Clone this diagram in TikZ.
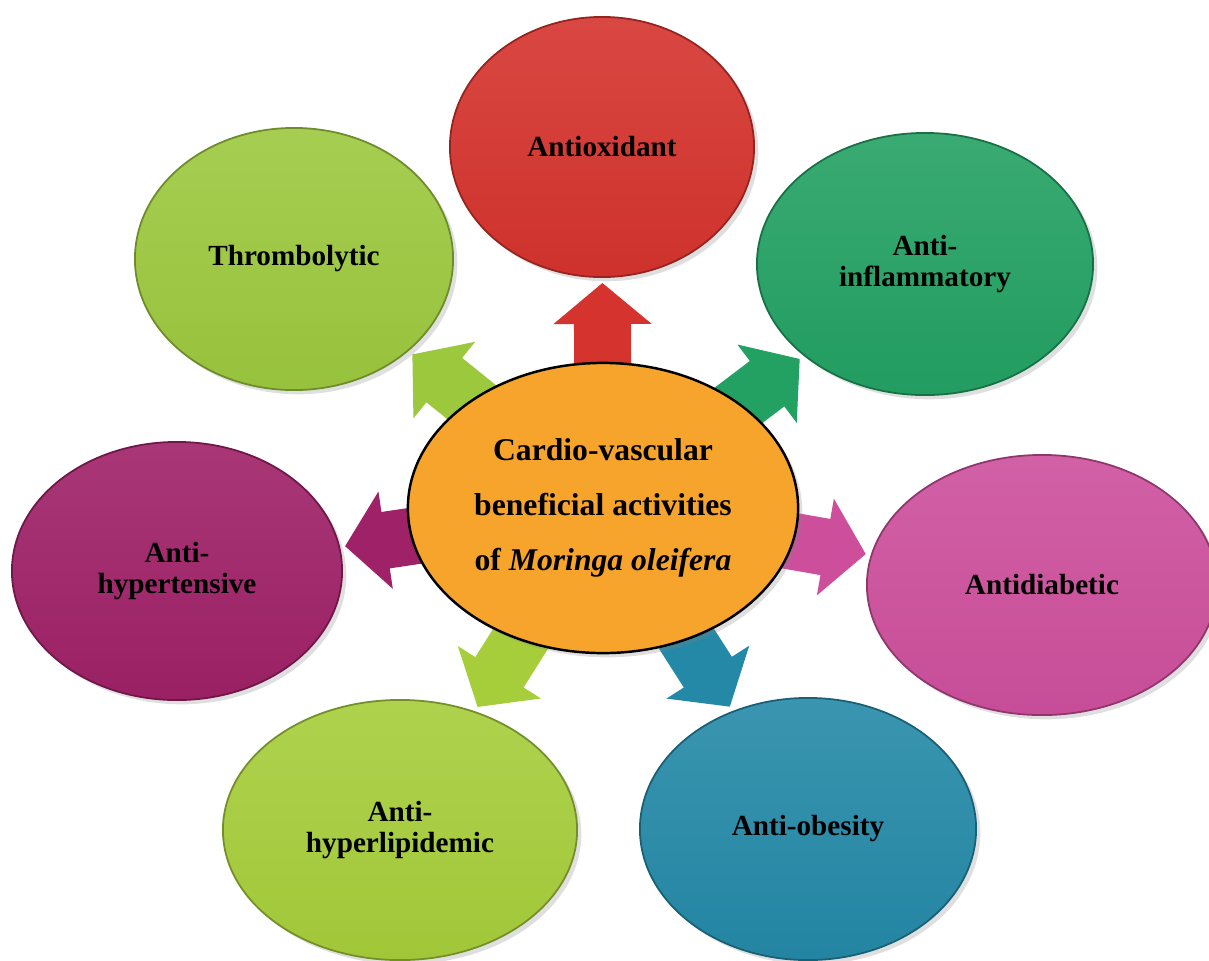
\documentclass[tikz,border=0pt]{standalone}
\usepackage{fontspec}
\setmainfont{Liberation Serif}
\usetikzlibrary{shapes.geometric,arrows.meta,shadows,backgrounds}
\definecolor{coreorange}{HTML}{F6A42C}
\definecolor{oxred}{HTML}{D5332D}
\definecolor{thrgreen}{HTML}{9CC83E}
\definecolor{inflgreen}{HTML}{23A163}
\definecolor{hyppurple}{HTML}{9F2167}
\definecolor{diabpink}{HTML}{CD4F9C}
\definecolor{lipgreen}{HTML}{A6CD3A}
\definecolor{obsteal}{HTML}{2489A7}
\tikzset{
  actnode/.style={ellipse,draw=#1!70!black,line width=0.5pt,
    top color=#1!90!white,bottom color=#1!97!black,inner sep=0pt,align=center,
    font=\bfseries\fontsize{8.3}{8.6}\selectfont,
    drop shadow={opacity=0.25,shadow xshift=1.2pt,shadow yshift=-1.2pt}},
  corenode/.style={ellipse,draw=black,line width=0.7pt,fill=coreorange,
    minimum width=39mm,minimum height=29mm,inner sep=0pt,align=center,
    font=\bfseries\fontsize{9}{15.6}\selectfont,
    drop shadow={opacity=0.25,shadow xshift=1.2pt,shadow yshift=-1.2pt}},
  actarrow/.style={draw=#1,line width=5.7mm,shorten <=-2.5mm,shorten >=0.5mm,
    -{Triangle[width=9.6mm,length=4.1mm]}}
}
\begin{document}
\begin{tikzpicture}[x=0.01cm,y=-0.01cm]
  \useasboundingbox (0,0) rectangle (1209,960);

  \node[corenode] (core) at (603,508)
    {Cardio-vascular\\beneficial activities\\of \textit{Moringa oleifera}};

  \node[actnode=oxred,minimum width=30.4mm,minimum height=26mm] (antiox) at (602,147) {Antioxidant};
  \node[actnode=thrgreen,minimum width=31.8mm,minimum height=26.2mm] (thromb) at (294,259) {Thrombolytic};
  \node[actnode=inflgreen,minimum width=33.6mm,minimum height=26.2mm] (inflam) at (925,264) {Anti-\\inflammatory};
  \node[actnode=hyppurple,minimum width=33mm,minimum height=25.8mm] (hypert) at (177,571) {Anti-\\hypertensive};
  \node[actnode=diabpink,minimum width=35mm,minimum height=26mm] (diab) at (1042,585) {Antidiabetic};
  \node[actnode=lipgreen,minimum width=35.4mm,minimum height=26mm] (hyperl) at (400,830) {Anti-\\hyperlipidemic};
  \node[actnode=obsteal,minimum width=33.6mm,minimum height=26.2mm] (obes) at (808,829) {Anti-obesity};

  % block arrows from the centre
  \begin{scope}[on background layer]
    \foreach \tgt/\col in {antiox/oxred,thromb/thrgreen,inflam/inflgreen,hypert/hyppurple,
        diab/diabpink,hyperl/lipgreen,obes/obsteal}
      \draw[actarrow=\col] (core) -- (\tgt);
  \end{scope}
\end{tikzpicture}
\end{document}
